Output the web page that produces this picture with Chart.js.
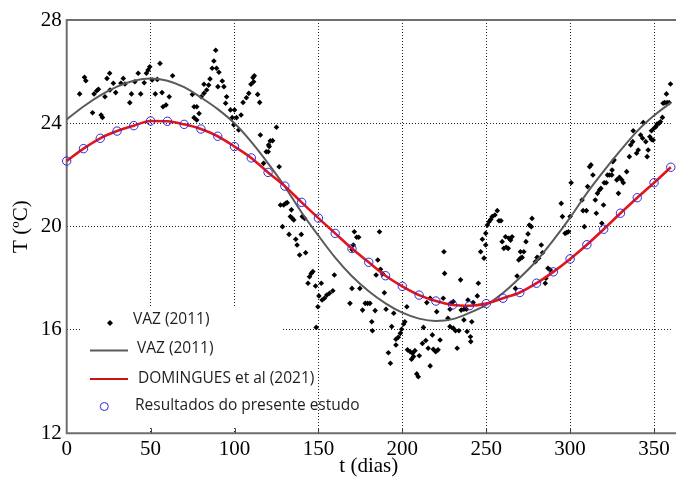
<!DOCTYPE html>
<html>
<head>
<meta charset="utf-8">
<script src="https://cdn.jsdelivr.net/npm/chart.js@4.4.1/dist/chart.umd.min.js"></script>
<style>
  html, body { margin: 0; padding: 0; background: #fff; }
  #chart { display: block; }
</style>
</head>
<body>
<canvas id="chart" width="676" height="482"></canvas>
<script>
const vazDays = [
  7.7, 10.6, 11.4, 15.4, 16.3, 17.9, 18.9, 20.5, 21.3, 22.8, 24.0, 25.6, 25.8, 27.8, 29.2, 32.3, 33.7, 34.7,
  37.6, 38.6, 40.6, 42.6, 44.1, 46.2, 47.5, 48.5, 49.5, 50.9, 52.8, 54.0, 55.6, 56.8, 57.4, 59.2, 61.1, 63.1,
  74.9, 75.9, 77.5, 75.9, 77.5, 78.9, 80.2, 81.8, 83.4, 84.6, 81.8, 85.4, 86.7, 87.7, 88.8, 89.3, 90.7, 90.1,
  93.7, 92.7, 95.3, 94.7, 97.6, 100.0, 98.6, 101.2, 99.6, 102.5, 103.9, 105.1, 107.1, 108.5, 109.8, 111.0,
  111.8, 111.4, 113.8, 115.0, 115.4, 118.9, 120.3, 121.3, 117.3, 125.0, 122.7, 120.7, 120.1, 126.6, 127.4,
  129.3, 130.5, 131.4, 133.9, 133.3, 134.5, 135.3, 140.4, 141.8, 128.6, 132.5, 136.5, 139.8, 137.3, 138.8,
  142.4, 143.8, 144.7, 145.7, 146.7, 148.3, 151.7, 150.3, 152.2, 153.6, 155.0, 156.6, 158.6, 149.7, 148.7,
  159.5, 170.0, 174.7, 168.8, 176.3, 177.9, 179.3, 180.7, 170.8, 170.0, 171.4, 172.8, 174.0, 181.8, 182.2,
  183.8, 184.4, 185.4, 186.4, 187.0, 189.3, 190.3, 188.3, 193.7, 194.9, 191.7, 192.9, 196.2, 197.6, 198.8,
  199.6, 200.8, 201.5, 196.2, 202.7, 203.1, 204.7, 206.1, 207.5, 205.5, 206.7, 208.6, 209.5, 210.1, 212.0,
  214.0, 212.6, 215.4, 216.6, 217.9, 218.5, 219.9, 221.3, 214.6, 216.6, 220.5, 222.5, 225.2, 224.8, 224.4,
  228.4, 228.8, 230.4, 228.4, 230.4, 231.7, 233.7, 227.2, 232.7, 234.7, 235.1, 236.7, 238.2, 236.7, 238.6,
  240.6, 239.1, 242.2, 240.8, 241.4, 244.7, 245.3, 246.7, 248.7, 247.7, 249.7, 250.7, 251.7, 252.7, 253.6,
  255.2, 256.6, 257.6, 258.8, 249.7, 259.5, 260.5, 261.9, 263.1, 261.5, 263.5, 264.5, 265.4, 268.4, 267.4,
  269.4, 270.4, 271.4, 270.4, 272.4, 273.7, 274.9, 275.7, 276.9, 277.3, 279.3, 280.3, 281.2, 282.8, 283.6,
  285.2, 285.6, 286.8, 288.2, 294.7, 295.4, 297.0, 298.0, 299.0, 300.0, 300.6, 307.1, 307.7, 309.7, 308.5,
  310.4, 311.6, 312.4, 313.6, 315.0, 315.6, 316.3, 317.5, 318.3, 318.9, 319.9, 320.3, 321.5, 322.3, 323.4,
  324.8, 325.0, 325.4, 326.2, 327.8, 329.4, 328.8, 330.8, 331.7, 333.7, 335.3, 336.1, 337.3, 337.6, 339.6,
  340.6, 342.0, 343.2, 343.6, 345.1, 345.9, 346.5, 347.5, 348.5, 349.5, 348.5, 350.0, 351.1, 351.8, 353.0,
  353.8, 355.0, 355.4, 356.4, 357.8, 359.0, 357.4, 359.8
];
const vazTemps = [
  25.14, 25.78, 25.65, 24.41, 25.14, 25.26, 25.32, 24.32, 24.23, 25.03, 25.74, 25.94, 25.29, 25.55, 25.19, 25.55, 25.74, 25.52,
  24.80, 25.14, 25.61, 25.94, 25.14, 25.57, 25.94, 26.06, 26.19, 25.68, 25.14, 25.70, 26.32, 25.19, 24.64, 24.71, 25.03, 25.84,
  25.12, 24.64, 24.64, 24.22, 24.13, 24.38, 25.03, 25.16, 25.29, 25.48, 25.51, 25.72, 26.13, 26.41, 26.83, 26.13, 25.98, 25.42,
  25.42, 25.64, 25.03, 24.78, 24.52, 24.52, 24.22, 24.22, 23.94, 23.74, 24.32, 24.81, 24.99, 25.16, 25.51, 25.77,
  25.84, 25.61, 25.12, 24.81, 23.55, 22.90, 23.16, 23.32, 22.45, 23.85, 23.33, 23.10, 22.90, 22.32, 20.84,
  20.84, 20.90, 20.93, 20.65, 20.39, 20.32, 20.26, 20.39, 20.32, 20.00, 19.70, 19.51, 19.70, 19.29, 18.90,
  18.99, 17.81, 18.06, 18.19, 18.26, 17.70, 17.81, 17.32, 17.16, 17.23, 17.35, 17.42, 17.52, 16.90, 16.10,
  18.13, 17.61, 17.61, 17.03, 16.77, 17.03, 17.03, 17.03, 19.29, 19.12, 19.80, 19.59, 19.59, 16.32, 15.97,
  16.75, 18.13, 18.71, 19.80, 18.35, 17.44, 16.80, 18.17, 16.13, 16.65, 15.12, 14.71, 15.64, 15.72, 15.87,
  16.03, 16.23, 16.32, 15.42, 16.90, 15.23, 15.16, 15.10, 15.20, 14.87, 14.97, 14.30, 14.19, 15.00, 15.48,
  15.59, 16.10, 15.29, 14.61, 15.81, 15.25, 15.16, 15.23, 17.06, 17.23, 16.71, 15.61, 18.19, 19.03, 17.23,
  16.80, 17.03, 17.10, 16.13, 16.07, 15.97, 15.97, 16.45, 15.29, 17.94, 16.77, 16.80, 16.80, 16.39, 15.94,
  15.74, 17.16, 17.06, 15.55, 16.32, 17.32, 17.81, 19.03, 18.78, 19.51, 19.74, 20.06, 20.19, 20.28, 20.39,
  20.45, 20.62, 20.23, 20.23, 19.29, 19.42, 19.16, 19.20, 19.16, 19.61, 19.55, 19.48, 19.61, 18.09, 17.61,
  18.71, 18.78, 18.81, 19.03, 19.03, 19.42, 19.72, 20.06, 20.00, 20.32, 18.64, 18.81, 18.78, 19.29, 18.99,
  17.81, 18.00, 18.39, 18.32, 20.90, 20.39, 19.74, 19.77, 19.80, 20.39, 21.70, 21.03, 20.62, 20.62, 20.00,
  21.55, 22.32, 22.39, 22.00, 21.03, 20.52, 21.29, 21.42, 21.48, 20.13, 20.84, 21.70, 21.70, 22.00, 22.00,
  22.00, 22.19, 22.51, 22.58, 21.81, 21.91, 21.29, 21.81, 21.70, 22.13, 22.71, 23.16, 23.29, 23.71, 22.84,
  22.97, 23.55, 23.42, 24.03, 23.29, 22.71, 22.97, 23.48, 23.38, 23.35, 23.71, 23.81, 23.87, 23.97, 24.00,
  24.06, 24.23, 24.78, 24.80, 24.80, 24.80, 25.14, 25.52
];

// curves sampled every 10 days
const curveDays = [0, 10, 20, 30, 40, 50, 60, 70, 80, 90, 100, 110, 120, 130, 140, 150, 160, 170, 180,
  190, 200, 210, 220, 230, 240, 250, 260, 270, 280, 290, 300, 310, 320, 330, 340, 350, 360];
const vazFit = [24.15, 24.65, 25.08, 25.42, 25.65, 25.74, 25.65, 25.40, 25.00, 24.55, 24.00, 23.28, 22.45,
  21.55, 20.55, 19.65, 18.80, 18.08, 17.50, 17.03, 16.67, 16.44, 16.35, 16.42, 16.66, 16.97, 17.43, 18.02,
  18.68, 19.48, 20.35, 21.30, 22.15, 22.95, 23.70, 24.30, 24.80];
const domingues = [22.54, 23.02, 23.42, 23.70, 23.91, 24.09, 24.08, 23.96, 23.78, 23.50, 23.10, 22.66, 22.10,
  21.57, 20.94, 20.33, 19.74, 19.15, 18.62, 18.10, 17.69, 17.35, 17.12, 16.97, 16.94, 17.02, 17.23, 17.45,
  17.81, 18.25, 18.75, 19.30, 19.90, 20.52, 21.12, 21.70, 22.30];
const presentStudy = [22.54, 23.02, 23.42, 23.70, 23.91, 24.09, 24.08, 23.96, 23.78, 23.50, 23.10, 22.66, 22.10,
  21.57, 20.94, 20.33, 19.74, 19.15, 18.62, 18.10, 17.69, 17.35, 17.12, 16.97, 16.94, 17.02, 17.23, 17.45,
  17.81, 18.25, 18.75, 19.30, 19.90, 20.52, 21.12, 21.70, 22.30];

const xTicks = [0, 50, 100, 150, 200, 250, 300, 350];
const yTicks = [12, 16, 20, 24, 28];
const legendLabels = ['VAZ (2011)', 'VAZ (2011)', 'DOMINGUES et al (2021)', 'Resultados do presente estudo'];

const GRAY = '#5a5a5a';
const RED = '#e3141b';
const BLUE = '#2a2ad8';
const AXIS = '#6e6e6e';
const serif = '"Liberation Serif", "Times New Roman", serif';

const toXY = (xs, ys) => xs.map((x, i) => ({ x: x, y: ys[i] }));

// white legend box, plot frame, inner ticks, then legend entries on top
const framePlugin = {
  id: 'frame',
  beforeDatasetsDraw(chart) {
    const { ctx, chartArea: a, scales: { x } } = chart;
    ctx.save();
    ctx.fillStyle = '#fff';
    ctx.fillRect(80, 306, 203, 120);
    ctx.strokeStyle = AXIS;
    ctx.lineWidth = 2;
    ctx.beginPath();
    ctx.moveTo(chart.width, a.top);
    ctx.lineTo(a.left, a.top);
    ctx.lineTo(a.left, a.bottom);
    ctx.lineTo(chart.width, a.bottom);
    ctx.stroke();
    ctx.lineWidth = 1;
    ctx.strokeStyle = '#444';
    ctx.beginPath();
    xTicks.slice(1).forEach(v => {
      const px = Math.round(x.getPixelForValue(v)) + 0.5;
      ctx.moveTo(px, a.bottom);
      ctx.lineTo(px, a.bottom - 5);
    });
    ctx.stroke();
    ctx.restore();
  },
  afterDatasetsDraw(chart) {
    const ctx = chart.ctx;
    ctx.save();
    // scatter marker
    ctx.fillStyle = '#000';
    ctx.beginPath();
    ctx.moveTo(110, 320); ctx.lineTo(113, 323); ctx.lineTo(110, 326); ctx.lineTo(107, 323);
    ctx.closePath();
    ctx.fill();
    // line markers
    ctx.lineWidth = 2;
    ctx.strokeStyle = GRAY;
    ctx.beginPath(); ctx.moveTo(90, 350.5); ctx.lineTo(128, 350.5); ctx.stroke();
    ctx.strokeStyle = '#cc1016';
    ctx.beginPath(); ctx.moveTo(90, 379); ctx.lineTo(128, 379); ctx.stroke();
    // circle marker
    ctx.lineWidth = 1;
    ctx.strokeStyle = BLUE;
    ctx.beginPath(); ctx.arc(104.3, 406.5, 4, 0, Math.PI * 2); ctx.stroke();
    // texts
    ctx.fillStyle = '#1e1e1e';
    ctx.font = '15.5px "Open Sans", sans-serif';
    ctx.textBaseline = 'middle';
    ctx.textAlign = 'left';
    ctx.fillText(legendLabels[0], 133, 320);
    ctx.fillText(legendLabels[1], 137, 349);
    ctx.fillText(legendLabels[2], 138, 378.5);
    ctx.fillText(legendLabels[3], 135, 405.5);
    ctx.restore();
  }
};

const gridColor = ctx => (ctx.tick && (ctx.tick.value === 0 || ctx.tick.value === 12 || ctx.tick.value === 28))
  ? 'rgba(0,0,0,0)' : 'rgba(10,10,10,0.9)';

new Chart(document.getElementById('chart'), {
  type: 'line',
  data: {
    datasets: [
      {
        label: legendLabels[3],
        data: toXY(curveDays, presentStudy),
        showLine: false,
        pointStyle: 'circle',
        pointRadius: 4.2,
        pointBorderWidth: 1,
        pointBorderColor: BLUE,
        pointBackgroundColor: 'rgba(0,0,0,0)'
      },
      {
        label: legendLabels[2],
        data: toXY(curveDays, domingues),
        borderColor: RED,
        borderWidth: 2.6,
        pointRadius: 0,
        cubicInterpolationMode: 'monotone'
      },
      {
        label: legendLabels[1],
        data: toXY(curveDays, vazFit),
        borderColor: GRAY,
        borderWidth: 2,
        pointRadius: 0,
        cubicInterpolationMode: 'monotone'
      },
      {
        label: legendLabels[0],
        data: toXY(vazDays, vazTemps),
        showLine: false,
        pointStyle: 'rectRot',
        pointRadius: 2.8,
        pointBorderWidth: 0,
        pointBackgroundColor: '#000'
      }
    ]
  },
  options: {
    responsive: false,
    animation: false,
    clip: false,
    layout: { padding: { top: 20, right: 0.8, left: 0, bottom: 0 } },
    plugins: { legend: { display: false }, tooltip: { enabled: false } },
    scales: {
      x: {
        type: 'linear',
        min: 0,
        max: 360,
        afterBuildTicks: s => { s.ticks = xTicks.map(v => ({ value: v })); },
        afterFit: s => { s.height = 48.7; },
        grid: { color: gridColor, lineWidth: 1, drawTicks: false },
        border: { display: false, dash: [1, 2] },
        ticks: { padding: 4, color: '#000', font: { family: serif, size: 21 }, maxRotation: 0 },
        title: { display: true, text: 't (dias)', color: '#000', font: { family: serif, size: 21 }, padding: { top: 0, bottom: 3 } }
      },
      y: {
        min: 12,
        max: 28,
        afterBuildTicks: s => { s.ticks = yTicks.map(v => ({ value: v })); },
        afterFit: s => { s.width = 66.7; },
        grid: { color: gridColor, lineWidth: 1, drawTicks: false },
        border: { display: false, dash: [1, 2] },
        ticks: { padding: 5, color: '#000', font: { family: serif, size: 21 } },
        title: { display: true, text: 'T (ºC)', color: '#000', font: { family: serif, size: 21 }, padding: { top: 9, bottom: 0 } }
      }
    }
  },
  plugins: [framePlugin]
});
</script>
</body>
</html>
